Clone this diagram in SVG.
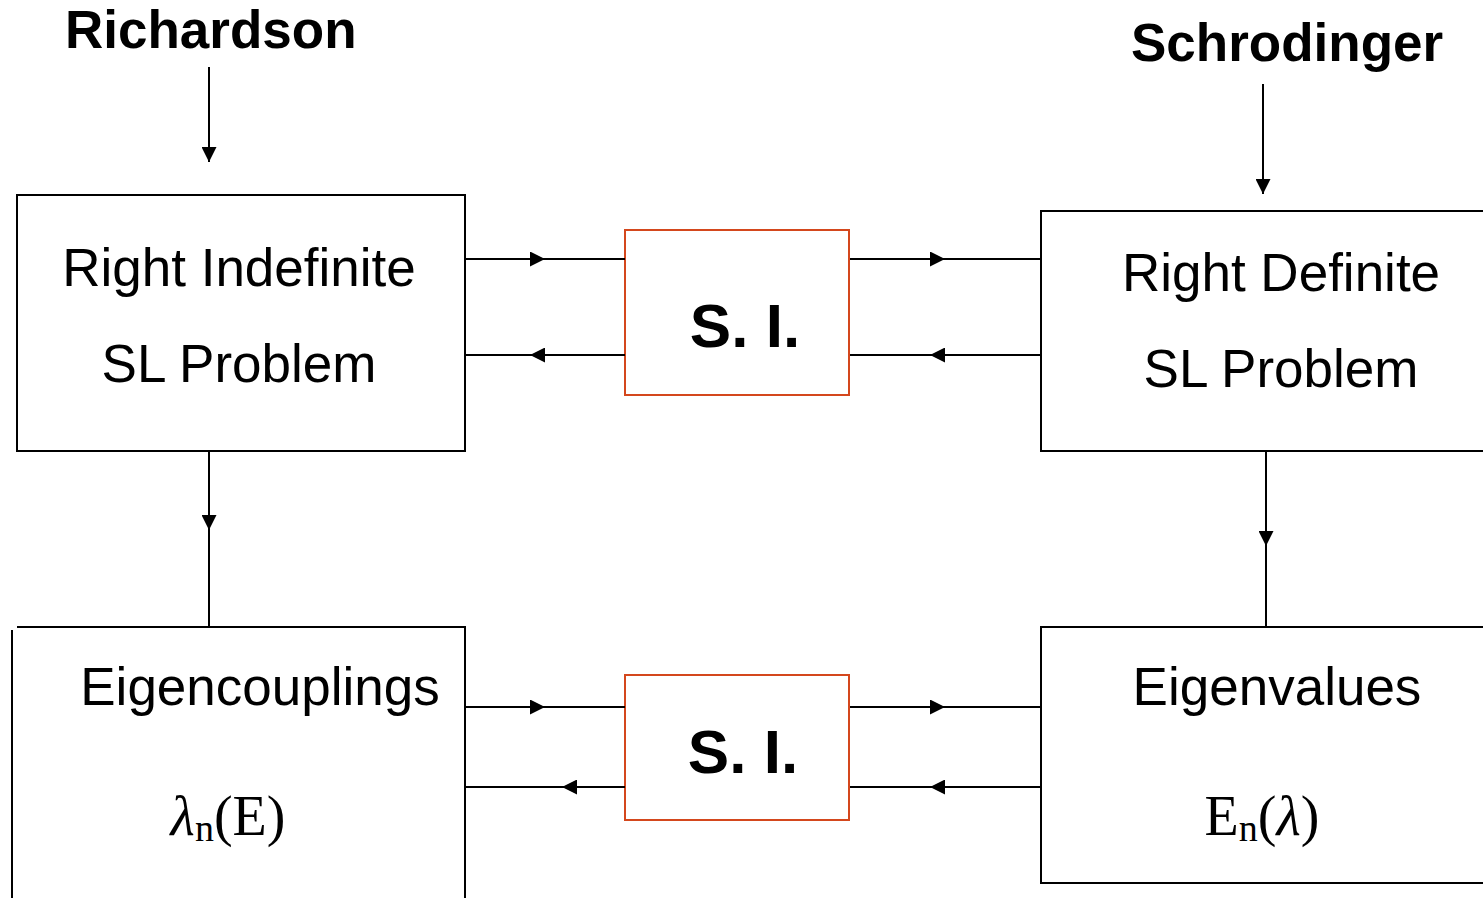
<svg xmlns="http://www.w3.org/2000/svg" width="1483" height="898" viewBox="0 0 1483 898">
<style>
.box{fill:#fff;stroke:#000;stroke-width:2}
.si{fill:#fff;stroke:#d4471d;stroke-width:2}
.ln{stroke:#000;stroke-width:2;fill:none}
.t{font-family:"Liberation Sans",Arial,sans-serif;font-size:53px;fill:#000;text-anchor:middle}
.b{font-family:"Liberation Sans",Arial,sans-serif;font-weight:bold;fill:#000}
.m{font-family:"Liberation Serif","Times New Roman",serif;font-size:56px;fill:#000;text-anchor:middle}
</style>
<defs>
<marker id="ah" viewBox="0 0 15 15" refX="15" refY="7.5" markerWidth="15" markerHeight="15" markerUnits="userSpaceOnUse" orient="auto">
<path d="M0,0 L15,7.5 L0,15 Z" fill="#000"/>
</marker>
</defs>
<rect width="1483" height="898" fill="#fff"/>
<g id="richardson"><text class="b" x="65" y="48" font-size="53">Richardson</text></g>
<g id="schrodinger"><text class="b" x="1131" y="61" font-size="53">Schrodinger</text></g>
<g id="right-indefinite">
<rect class="box" x="17" y="195" width="448" height="256"/>
<text class="t" x="239" y="286">Right Indefinite</text>
<text class="t" x="239" y="382">SL Problem</text>
</g>
<g id="si-top">
<rect class="si" x="625" y="230" width="224" height="165"/>
<text class="b" x="745" y="347" font-size="62" text-anchor="middle">S. I.</text>
</g>
<g id="right-definite">
<path class="box" d="M1492,211 H1041 V451 H1492"/>
<text class="t" x="1281" y="291">Right Definite</text>
<text class="t" x="1281" y="387">SL Problem</text>
</g>
<g id="eigencouplings">
<path class="ln" d="M17,627 H465 V900"/>
<path class="ln" d="M12,630 V900"/>
<text class="t" x="260" y="705">Eigencouplings</text>
<text class="m" x="228" y="835"><tspan font-style="italic">λ</tspan><tspan font-size="38" dy="6">n</tspan><tspan dy="-6">(E)</tspan></text>
</g>
<g id="si-bottom">
<rect class="si" x="625" y="675" width="224" height="145"/>
<text class="b" x="743" y="773" font-size="62" text-anchor="middle">S. I.</text>
</g>
<g id="eigenvalues">
<path class="box" d="M1492,627 H1041 V883 H1492"/>
<text class="t" x="1277" y="705">Eigenvalues</text>
<text class="m" x="1262" y="835">E<tspan font-size="38" dy="6">n</tspan><tspan dy="-6">(<tspan font-style="italic">λ</tspan>)</tspan></text>
</g>
<g id="connectors">
<line class="ln" x1="209" y1="67" x2="209" y2="162" marker-end="url(#ah)"/>
<line class="ln" x1="1263" y1="84" x2="1263" y2="194" marker-end="url(#ah)"/>
<line class="ln" x1="209" y1="451" x2="209" y2="530" marker-end="url(#ah)"/>
<line class="ln" x1="209" y1="528" x2="209" y2="627"/>
<line class="ln" x1="1266" y1="451" x2="1266" y2="546" marker-end="url(#ah)"/>
<line class="ln" x1="1266" y1="544" x2="1266" y2="627"/>

<line class="ln" x1="466" y1="259" x2="545" y2="259" marker-end="url(#ah)"/>
<line class="ln" x1="543" y1="259" x2="625" y2="259"/>
<line class="ln" x1="625" y1="355" x2="530" y2="355" marker-end="url(#ah)"/>
<line class="ln" x1="532" y1="355" x2="466" y2="355"/>
<line class="ln" x1="850" y1="259" x2="945" y2="259" marker-end="url(#ah)"/>
<line class="ln" x1="943" y1="259" x2="1041" y2="259"/>
<line class="ln" x1="1041" y1="355" x2="930" y2="355" marker-end="url(#ah)"/>
<line class="ln" x1="932" y1="355" x2="850" y2="355"/>

<line class="ln" x1="466" y1="707" x2="545" y2="707" marker-end="url(#ah)"/>
<line class="ln" x1="543" y1="707" x2="625" y2="707"/>
<line class="ln" x1="625" y1="787" x2="562" y2="787" marker-end="url(#ah)"/>
<line class="ln" x1="564" y1="787" x2="466" y2="787"/>
<line class="ln" x1="850" y1="707" x2="945" y2="707" marker-end="url(#ah)"/>
<line class="ln" x1="943" y1="707" x2="1041" y2="707"/>
<line class="ln" x1="1041" y1="787" x2="930" y2="787" marker-end="url(#ah)"/>
<line class="ln" x1="932" y1="787" x2="850" y2="787"/>
</g>
</svg>
